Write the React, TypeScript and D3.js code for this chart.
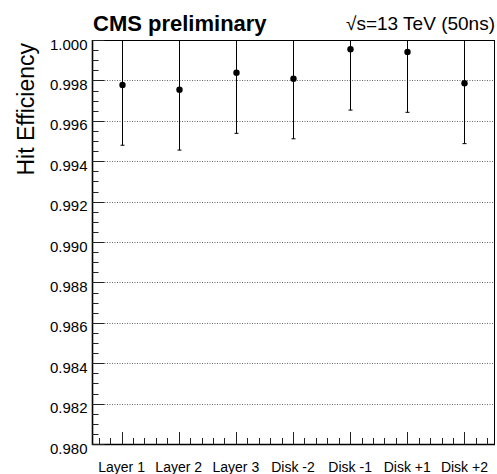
import React from "react";
import * as d3 from "d3";

const categories = ["Layer 1", "Layer 2", "Layer 3", "Disk -2", "Disk -1", "Disk +1", "Disk +2"];
const efficiency = [0.99777, 0.99754, 0.99838, 0.99808, 0.99954, 0.99941, 0.99786];
const errDown = [0.00298, 0.00299, 0.003, 0.00297, 0.00301, 0.00299, 0.00299];
const errUp = [0.00298, 0.00299, 0.003, 0.00297, 0.00301, 0.00299, 0.00299];
const yTicks = [0.98, 0.982, 0.984, 0.986, 0.988, 0.99, 0.992, 0.994, 0.996, 0.998, 1.0];
const yDomain = [0.98, 1.0];

const W = 497;
const H = 474;
const L = 92;
const R = 494;
const T = 40;
const B = 444;
const FONT = "'Liberation Sans', Arial, Helvetica, sans-serif";

export default function App() {
  const x = d3.scaleBand<string>().domain(categories).range([L + 1, R - 1]).padding(0);
  const y = d3.scaleLinear().domain(yDomain).range([B, T]);
  const bw = x.bandwidth();
  const c0 = (x(categories[0]) as number) + bw / 2;
  const sub = bw / 5;

  const xTicks: { pos: number; major: boolean }[] = [];
  for (let j = -3; j <= 40; j++) {
    const p = c0 + j * sub;
    if (p > L + 1 && p < R - 1) xTicks.push({ pos: p, major: j % 5 === 0 });
  }
  const minorY = d3.range(0, 41).map((i) => yDomain[0] + i * 0.0005);

  const fmt = d3.format(".3f");

  return (
    <svg
      width={W}
      height={H}
      style={{ position: "absolute", left: 0, top: 0, background: "#fff" }}
      fontFamily={FONT}
    >
      <defs>
        <clipPath id="plotclip">
          <rect x={L} y={T} width={R - L} height={B - T} />
        </clipPath>
      </defs>
      <rect x={0} y={0} width={W} height={H} fill="#fff" />
      {/* grid */}
      {yTicks
        .filter((t) => t > yDomain[0] + 1e-9 && t < yDomain[1] - 1e-9)
        .map((t) => (
          <line
            key={"g" + t}
            x1={L}
            x2={R}
            y1={Math.round(y(t)) + 0.5}
            y2={Math.round(y(t)) + 0.5}
            stroke="#666"
            strokeWidth={1}
            strokeDasharray="1,1.5"
          />
        ))}
      {/* frame */}
      <rect x={L + 0.5} y={T + 0.5} width={R - L} height={B - T} fill="none" stroke="#000" strokeWidth={1} />
      <line x1={L + 0.5} x2={L + 0.5} y1={T} y2={B + 1} stroke="#000" strokeWidth={1.6} />
      <line x1={L} x2={R + 1} y1={B + 0.5} y2={B + 0.5} stroke="#000" strokeWidth={1.6} />
      {/* y ticks */}
      {minorY.map((t, i) => (
        <line
          key={"yt" + i}
          x1={L}
          x2={L + (i % 4 === 0 ? 12.5 : 6.5)}
          y1={Math.round(y(t)) + 0.5}
          y2={Math.round(y(t)) + 0.5}
          stroke="#222"
          strokeWidth={1}
        />
      ))}
      {/* x ticks */}
      {xTicks.map((t, i) => (
        <line
          key={"xt" + i}
          x1={Math.round(t.pos) + 0.5}
          x2={Math.round(t.pos) + 0.5}
          y1={B}
          y2={B - (t.major ? 12 : 6)}
          stroke="#222"
          strokeWidth={1}
        />
      ))}
      {/* y labels */}
      {yTicks.map((t) => (
        <text key={"yl" + t} x={87.5} y={y(t) + 9.5} textAnchor="end" fontSize={15} fill="#000">
          {fmt(t)}
        </text>
      ))}
      {/* x labels */}
      {categories.map((c) => (
        <text key={"xl" + c} x={(x(c) as number) + bw / 2} y={471.5} textAnchor="middle" fontSize={14} fill="#000">
          {c}
        </text>
      ))}
      {/* data */}
      <g clipPath="url(#plotclip)">
        {categories.map((c, i) => {
          const cx = Math.round((x(c) as number) + bw / 2) + 0.5;
          const lo = y(efficiency[i] - errDown[i]);
          const hi = y(efficiency[i] + errUp[i]);
          return (
            <g key={"d" + c}>
              <line x1={cx} x2={cx} y1={lo} y2={hi} stroke="#000" strokeWidth={1} />
              <line x1={cx - 2} x2={cx + 2} y1={lo} y2={lo} stroke="#000" strokeWidth={1} />
              <circle cx={cx} cy={y(efficiency[i])} r={3.2} fill="#000" />
            </g>
          );
        })}
      </g>
      {/* titles */}
      <text x={93} y={31} fontSize={22} fontWeight="bold" fill="#000">
        CMS preliminary
      </text>
      <text x={495} y={30} textAnchor="end" fontSize={19} fill="#000">
        √s=13 TeV (50ns)
      </text>
      <text
        transform={`translate(33.5, 43) rotate(-90)`}
        textAnchor="end"
        fontSize={23}
        fill="#000"
      >
        Hit Efficiency
      </text>
    </svg>
  );
}
